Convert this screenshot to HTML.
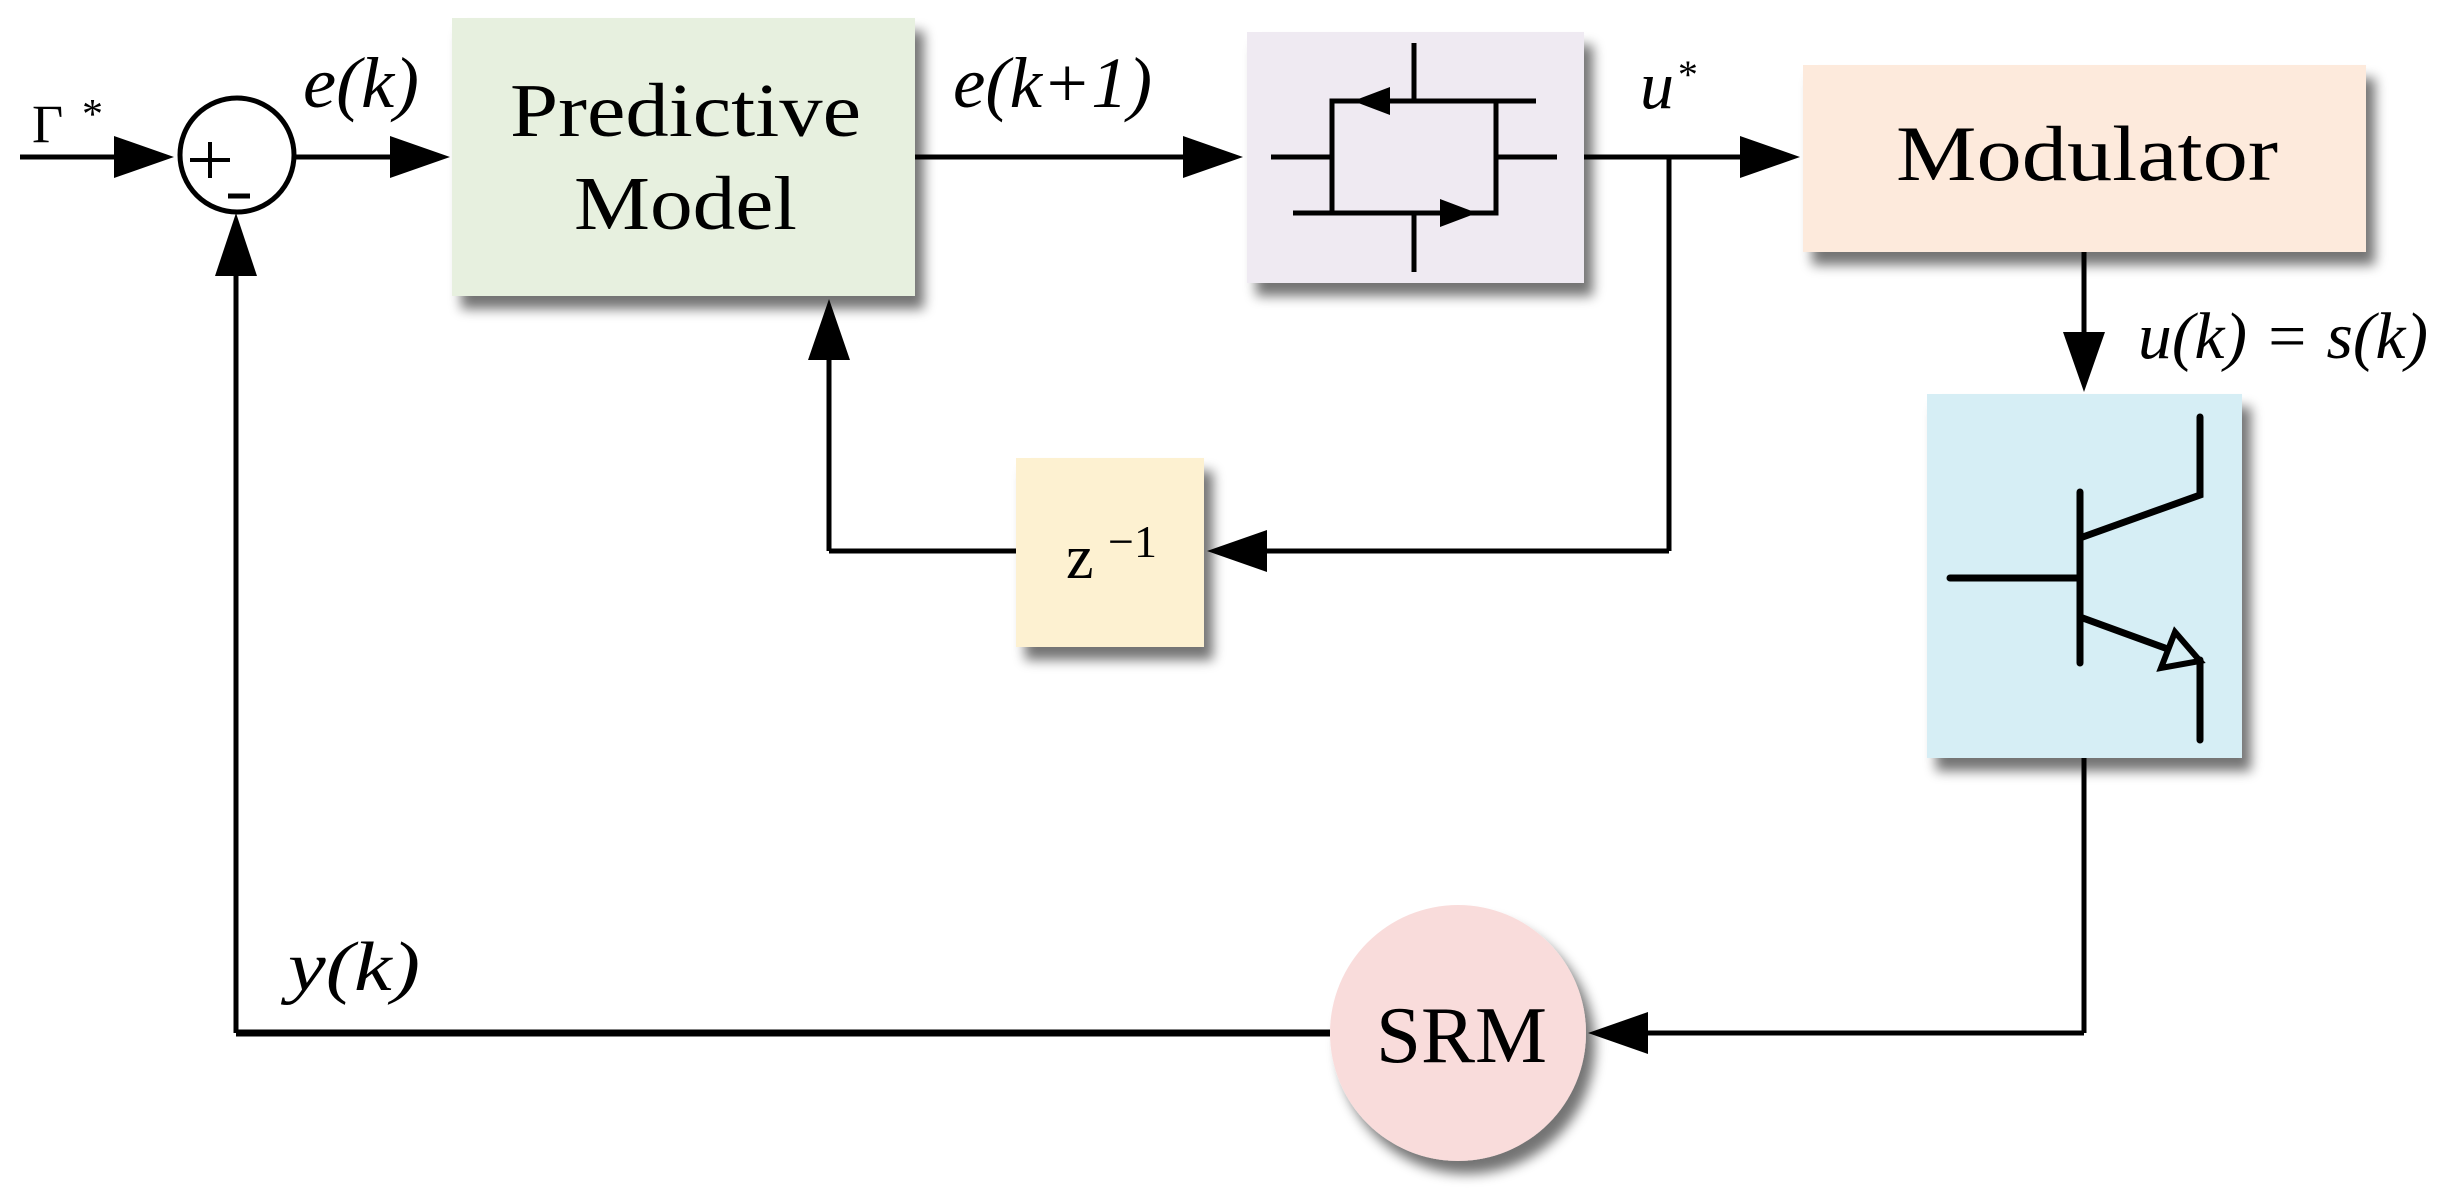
<!DOCTYPE html>
<html><head><meta charset="utf-8"><style>
html,body{margin:0;padding:0;background:#fff;}
svg{display:block;}
text{font-family:"Liberation Serif",serif;fill:#000;}
</style></head><body>
<svg width="2437" height="1197" viewBox="0 0 2437 1197" xmlns="http://www.w3.org/2000/svg">
<defs>
<filter id="sh" x="-20%" y="-20%" width="150%" height="150%">
<feGaussianBlur in="SourceAlpha" stdDeviation="6"/>
<feOffset dx="9" dy="13" result="b"/>
<feComponentTransfer><feFuncA type="linear" slope="0.55"/></feComponentTransfer>
<feMerge><feMergeNode/><feMergeNode in="SourceGraphic"/></feMerge>
</filter>
</defs>

<!-- boxes -->
<rect x="452" y="18" width="463" height="278" fill="#e7f0df" filter="url(#sh)"/>
<rect x="1247" y="32" width="337" height="251" fill="#efeaf2" filter="url(#sh)"/>
<rect x="1803" y="65" width="563" height="187" fill="#fdeadc" filter="url(#sh)"/>
<rect x="1927" y="394" width="315" height="364" fill="#d6eef5" filter="url(#sh)"/>
<rect x="1016" y="458" width="188" height="189" fill="#fdf1d1" filter="url(#sh)"/>
<ellipse cx="1458" cy="1033" rx="128" ry="128" fill="#f9dcdb" filter="url(#sh)"/>

<g stroke="#000" stroke-width="5" fill="none">
<!-- input -->
<line x1="20" y1="157" x2="130" y2="157"/>
<circle cx="237" cy="155" r="57"/>
<line x1="294" y1="157" x2="400" y2="157"/>
<line x1="915" y1="157" x2="1190" y2="157"/>
<line x1="1584" y1="157" x2="1745" y2="157"/>
<line x1="1669" y1="157" x2="1669" y2="551"/>
<line x1="1669" y1="551" x2="1255" y2="551"/>
<line x1="1016" y1="551" x2="829" y2="551"/>
<line x1="829" y1="551" x2="829" y2="355"/>
<line x1="2084" y1="252" x2="2084" y2="340"/>
<line x1="2084" y1="758" x2="2084" y2="1033"/>
<line x1="2084" y1="1033" x2="1640" y2="1033"/>
<line x1="1330" y1="1033" x2="236" y2="1033" stroke-width="7"/>
<line x1="236" y1="1033" x2="236" y2="270"/>
</g>
<!-- arrowheads -->
<g fill="#000">
<polygon points="174,157 114,136 114,178"/>
<polygon points="450,157 390,136 390,178"/>
<polygon points="1243,157 1183,136 1183,178"/>
<polygon points="1800,157 1740,136 1740,178"/>
<polygon points="1207,551 1267,530 1267,572"/>
<polygon points="829,299 808,360 850,360"/>
<polygon points="236,213 215,276 257,276"/>
<polygon points="2084,392 2063,332 2105,332"/>
<polygon points="1588,1033 1648,1012 1648,1054"/>
</g>
<!-- plus/minus -->
<g stroke="#000" stroke-width="4">
<line x1="190" y1="160" x2="230" y2="160"/>
<line x1="210" y1="142" x2="210" y2="178"/>
<line x1="228" y1="196" x2="250" y2="196" stroke-width="5"/>
</g>

<!-- purple symbol -->
<g stroke="#000" stroke-width="5" fill="none">
<line x1="1271" y1="157" x2="1332" y2="157"/>
<line x1="1496" y1="157" x2="1557" y2="157"/>
<polyline points="1536,101 1332,101 1332,213"/>
<polyline points="1293,213 1496,213 1496,101"/>
<line x1="1414" y1="43" x2="1414" y2="101"/>
<line x1="1414" y1="213" x2="1414" y2="272"/>
</g>
<polygon points="1353,101 1390,87 1390,115" fill="#000"/>
<polygon points="1477,213 1440,199 1440,227" fill="#000"/>

<!-- transistor -->
<g stroke="#000" stroke-width="7" fill="none" stroke-linecap="round">
<line x1="1950" y1="578" x2="2080" y2="578"/>
<line x1="2080" y1="492" x2="2080" y2="663"/>
<polyline points="2080,538 2200,495 2200,417"/>
<line x1="2080" y1="617" x2="2165" y2="648"/>
<polyline points="2200,660 2200,740"/>
<polygon points="2200,661 2175,632 2161,668" stroke-width="6" stroke-linejoin="miter"/>
</g>

<!-- labels -->
<text x="32" y="142" font-size="54">Γ</text>
<text x="82" y="128" font-size="42">*</text>
<text x="303" y="107" font-size="72" font-style="italic" textLength="116" lengthAdjust="spacingAndGlyphs">e(k)</text>
<text x="953" y="107" font-size="72" font-style="italic" textLength="199" lengthAdjust="spacingAndGlyphs">e(k+1)</text>
<text x="510" y="136" font-size="76" textLength="351" lengthAdjust="spacingAndGlyphs">Predictive</text>
<text x="574" y="229" font-size="76" textLength="223" lengthAdjust="spacingAndGlyphs">Model</text>
<text x="1640" y="108" font-size="68" font-style="italic">u</text>
<text x="1676" y="88" font-size="40" font-style="italic">*</text>
<text x="1896" y="180" font-size="78" textLength="382" lengthAdjust="spacingAndGlyphs">Modulator</text>
<text x="2138" y="358" font-size="66" font-style="italic" textLength="290" lengthAdjust="spacingAndGlyphs">u(k) = s(k)</text>
<text x="1066" y="578" font-size="62">z</text>
<text x="1108" y="557" font-size="46">−1</text>
<text x="1376" y="1062" font-size="80" textLength="171" lengthAdjust="spacingAndGlyphs">SRM</text>
<text x="288" y="990" font-size="70" font-style="italic" textLength="132" lengthAdjust="spacingAndGlyphs">y(k)</text>
</svg>
</body></html>
